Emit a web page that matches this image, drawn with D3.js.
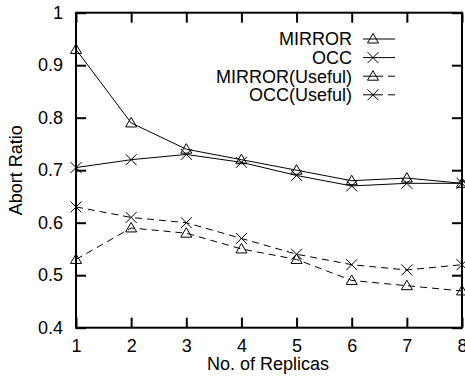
<!DOCTYPE html>
<html>
<head>
<meta charset="utf-8">
<script src="https://cdn.jsdelivr.net/npm/d3@7"></script>
<style>
  body { margin: 0; background: #fff; }
  svg { display: block; font-family: "Liberation Sans", Arial, sans-serif; }
</style>
</head>
<body>
<svg id="chart" width="465" height="376"></svg>
<script>
const replicas = [1, 2, 3, 4, 5, 6, 7, 8];
const mirror = [0.93, 0.79, 0.74, 0.72, 0.70, 0.68, 0.685, 0.675];
const occ = [0.705, 0.72, 0.73, 0.715, 0.69, 0.67, 0.675, 0.675];
const mirrorUseful = [0.53, 0.59, 0.58, 0.55, 0.53, 0.49, 0.48, 0.47];
const occUseful = [0.63, 0.61, 0.60, 0.57, 0.54, 0.52, 0.51, 0.52];
const yTicks = [0.4, 0.5, 0.6, 0.7, 0.8, 0.9, 1];
const seriesNames = ['MIRROR', 'OCC', 'MIRROR(Useful)', 'OCC(Useful)'];

const width = 465, height = 376;
const margin = { top: 12.7, right: 3, bottom: 48.3, left: 76 };

const svg = d3.select('#chart');

const x = d3.scaleLinear().domain([1, 8]).range([margin.left, width - margin.right]);
const y = d3.scaleLinear().domain([0.4, 1]).range([height - margin.bottom, margin.top]);

const series = [
  { name: seriesNames[0], values: mirror, marker: 'tri', dash: null },
  { name: seriesNames[1], values: occ, marker: 'cross', dash: null },
  { name: seriesNames[2], values: mirrorUseful, marker: 'tri', dash: '7,5' },
  { name: seriesNames[3], values: occUseful, marker: 'cross', dash: '7,5' }
];

// marker shapes
const triPath = 'M0,-5.5L5.5,4L-5.5,4Z';
const crossPath = 'M-5.5,-5.5L5.5,5.5M-5.5,5.5L5.5,-5.5';

function drawMarker(g, type, cx, cy) {
  g.append('path')
    .attr('d', type === 'tri' ? triPath : crossPath)
    .attr('transform', `translate(${cx},${cy})`)
    .attr('fill', 'none')
    .attr('stroke', '#000')
    .attr('stroke-width', 1);
}

// axes with inward ticks
const xAxis = d3.axisBottom(x).tickValues(replicas).tickFormat(d3.format('d'))
  .tickSize(-10).tickPadding(12);
const yAxis = d3.axisLeft(y).tickValues(yTicks).tickFormat(d => d === 1 ? '1' : d3.format('.1f')(d))
  .tickSize(-10).tickPadding(13);

svg.append('g')
  .attr('transform', `translate(0,${height - margin.bottom})`)
  .call(xAxis);
svg.append('g')
  .attr('transform', `translate(${margin.left},0)`)
  .call(yAxis);

// mirrored ticks on top and right
svg.append('g')
  .attr('transform', `translate(0,${margin.top})`)
  .call(d3.axisTop(x).tickValues(replicas).tickFormat('').tickSize(-10));
svg.append('g')
  .attr('transform', `translate(${width - margin.right},0)`)
  .call(d3.axisRight(y).tickValues(yTicks).tickFormat('').tickSize(-10));

svg.selectAll('.domain').remove();
svg.selectAll('.tick line').attr('stroke', '#000').attr('stroke-width', 2);
svg.selectAll('.tick text').attr('font-size', 18).attr('fill', '#000')
  .attr('font-family', '"Liberation Sans", Arial, sans-serif');

// frame
svg.append('rect')
  .attr('x', margin.left).attr('y', margin.top)
  .attr('width', width - margin.left - margin.right)
  .attr('height', height - margin.top - margin.bottom)
  .attr('fill', 'none').attr('stroke', '#000').attr('stroke-width', 2);

// lines and markers
const line = d3.line().x((d, i) => x(replicas[i])).y(d => y(d));
const plot = svg.append('g');
series.forEach(s => {
  plot.append('path')
    .datum(s.values)
    .attr('d', line)
    .attr('fill', 'none')
    .attr('stroke', '#000')
    .attr('stroke-width', 1)
    .attr('stroke-dasharray', s.dash);
  s.values.forEach((v, i) => drawMarker(plot, s.marker, x(replicas[i]), y(v)));
});

// legend
const legend = svg.append('g');
series.forEach((s, i) => {
  const ly = 39 + i * 18.6;
  legend.append('text')
    .attr('x', 352).attr('y', ly).attr('dy', '0.35em')
    .attr('text-anchor', 'end')
    .attr('font-size', 18)
    .text(s.name);
  legend.append('line')
    .attr('x1', 363).attr('x2', 395).attr('y1', ly).attr('y2', ly)
    .attr('stroke', '#000').attr('stroke-width', 1)
    .attr('stroke-dasharray', s.dash ? '20,5,7' : null);
  drawMarker(legend, s.marker, 373, ly);
});

// axis titles
svg.append('text')
  .attr('x', 268).attr('y', 370)
  .attr('text-anchor', 'middle')
  .attr('font-size', 18)
  .text('No. of Replicas');
svg.append('text')
  .attr('transform', `translate(22,${(margin.top + height - margin.bottom) / 2}) rotate(-90)`)
  .attr('text-anchor', 'middle')
  .attr('font-size', 18)
  .text('Abort Ratio');
</script>
</body>
</html>
